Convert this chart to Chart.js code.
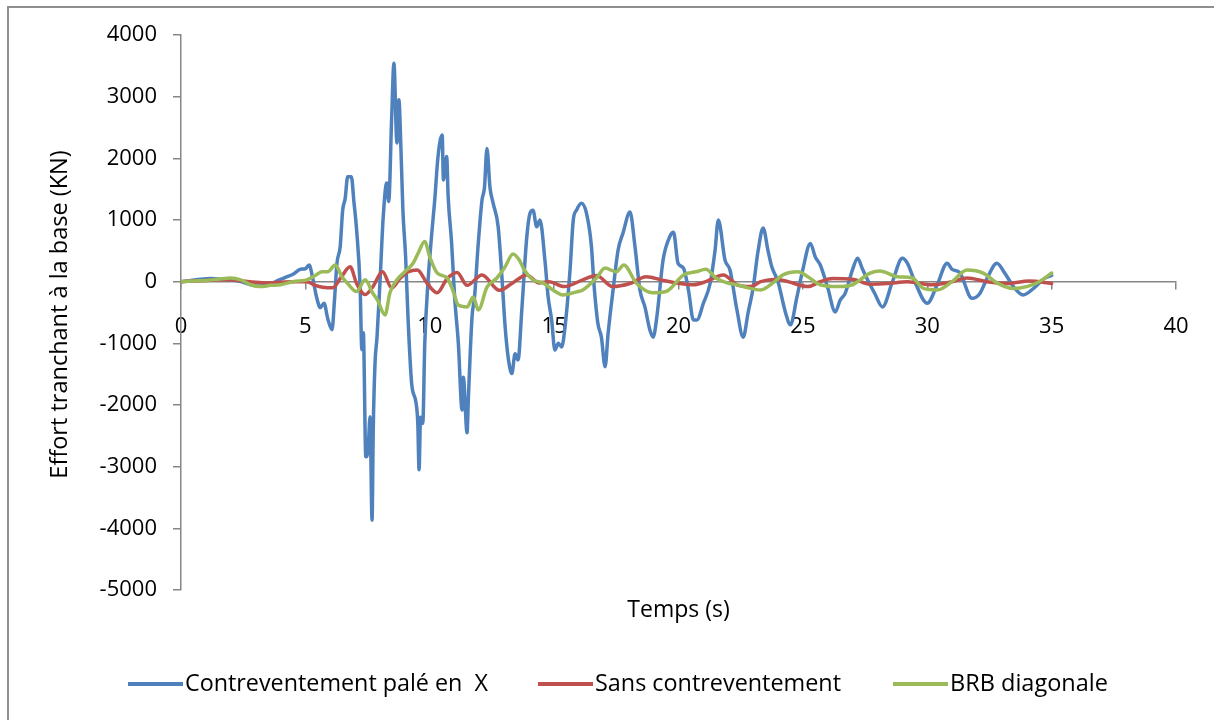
<!DOCTYPE html>
<html>
<head>
<meta charset="utf-8">
<script src="https://cdn.jsdelivr.net/npm/chart.js@4.4.1/dist/chart.umd.min.js"></script>
<style>
  html, body { margin: 0; padding: 0; background: #ffffff; }
  #wrap { width: 1214px; height: 720px; position: relative; }
</style>
</head>
<body>
<div id="wrap"><canvas id="c" width="1214" height="720"></canvas></div>
<script>
// ---------- DATA ----------
const seriesNames = ["Contreventement palé en  X", "Sans contreventement", "BRB diagonale"];
const xTickValues = [0, 5, 10, 15, 20, 25, 30, 35, 40];
const yTickValues = [4000, 3000, 2000, 1000, 0, -1000, -2000, -3000, -4000, -5000];
const xTitle = "Temps (s)";
const yTitle = "Effort tranchant à la base (KN)";

const blueT = [0,0.4,0.8,1.2,1.6,2.0,2.4,2.8,3.2,3.6,3.9,4.2,4.5,4.8,5.0,5.15,5.3,5.45,5.6,5.75,5.9,6.07,6.17,6.27,6.4,6.5,6.6,6.7,6.85,6.95,7.06,7.2,7.27,7.33,7.43,7.52,7.6,7.68,7.73,7.8,7.88,8.0,8.13,8.27,8.35,8.47,8.56,8.68,8.76,8.84,8.92,9.03,9.13,9.27,9.45,9.52,9.57,9.63,9.72,9.8,9.93,10.08,10.2,10.33,10.5,10.55,10.68,10.74,10.88,11.0,11.15,11.3,11.35,11.5,11.55,11.7,11.8,11.95,12.1,12.2,12.3,12.42,12.55,12.75,12.9,13.03,13.15,13.3,13.43,13.55,13.7,13.9,14.03,14.15,14.3,14.43,14.63,14.76,14.9,15.03,15.17,15.3,15.44,15.64,15.77,15.9,16.1,16.3,16.5,16.6,16.76,16.9,17.05,17.17,17.37,17.57,17.77,18.05,18.25,18.45,18.65,18.85,18.98,19.13,19.38,19.65,19.8,19.98,20.2,20.4,20.6,20.74,21.0,21.27,21.47,21.6,21.87,22.07,22.35,22.6,22.8,23.0,23.2,23.4,23.6,23.75,24.0,24.3,24.5,24.76,25.0,25.3,25.5,25.7,26.0,26.3,26.5,26.7,27.0,27.2,27.4,27.6,27.9,28.2,28.6,29.0,29.2,29.5,30.0,30.4,30.8,31.0,31.3,31.8,32.1,32.4,32.8,33.1,33.5,33.85,34.3,34.7,35.0];
const blueV = [0,20,40,50,40,30,0,-50,-70,-40,20,70,120,200,210,270,50,-250,-420,-350,-600,-780,-300,300,570,1160,1350,1700,1700,1300,840,-80,-1100,-830,-2840,-2730,-2190,-3870,-2360,-1320,-900,0,1050,1600,1300,2670,3540,2250,2950,2180,1160,400,-620,-1640,-1970,-2300,-3050,-2200,-2300,-1000,0,780,1320,2020,2380,1650,2030,1380,620,-250,-1000,-2080,-1550,-2450,-1920,-570,-250,620,1320,1530,2160,1530,1270,890,80,-730,-1220,-1490,-1170,-1270,-460,720,1110,1160,890,1000,350,-250,-620,-1110,-1000,-1060,-730,190,1000,1160,1270,1110,570,-30,-680,-900,-1380,-840,-135,510,790,1130,570,-135,-410,-785,-900,-570,350,730,800,300,220,-135,-620,-620,-350,-30,510,1000,350,190,-460,-900,-500,-100,500,870,500,240,0,-500,-700,-250,200,620,400,270,-100,-490,-300,-190,200,380,200,30,-200,-410,0,380,300,0,-350,-50,300,200,150,-270,-200,50,300,150,-100,-215,-100,50,100];

const redT = [0,0.5,1.0,1.5,2.0,2.5,3.0,3.5,4.0,4.5,5.06,5.4,5.7,6.1,6.45,6.8,7.06,7.4,7.7,8.1,8.47,8.8,9.14,9.5,9.9,10.3,10.7,11.1,11.5,12.1,12.8,13.3,13.9,14.4,14.8,15.4,16.15,16.7,17.35,18.05,18.7,19.4,20.05,20.6,21.1,21.8,22.4,22.9,23.3,23.95,24.4,25.2,25.7,26.2,27.0,27.7,28.4,29.2,30.2,31.0,31.6,32.4,33.2,34.1,35.0];
const redV = [0,10,20,30,30,10,-10,-20,-10,0,0,-60,-90,-100,80,240,-30,-210,-90,160,-100,50,160,190,-30,-180,50,150,-60,110,-140,-30,110,-20,0,-80,30,100,-80,-30,80,20,-30,-50,0,110,-60,-80,0,40,0,-80,0,50,40,-40,-30,0,-50,0,60,0,-30,10,-30];

const greenT = [0,0.5,1.0,1.5,2.0,2.4,2.8,3.2,3.6,4.0,4.5,5.06,5.4,5.66,5.9,6.2,6.47,6.7,7.06,7.4,7.7,7.9,8.2,8.4,8.68,9.0,9.33,9.53,9.8,10.0,10.3,10.7,10.95,11.15,11.5,11.75,11.95,12.3,12.7,13.0,13.35,13.6,13.8,14.15,14.55,14.95,15.35,15.9,16.15,16.7,17.05,17.5,17.8,18.3,18.97,19.5,20.2,20.7,21.1,21.5,21.95,22.35,22.8,23.3,23.8,24.2,24.8,25.2,25.7,26.4,27.0,27.7,28.1,28.8,29.4,29.85,30.4,31.0,31.6,32.25,32.8,33.45,34.0,34.5,35.0];
const greenV = [0,10,20,40,60,30,-50,-80,-60,-50,0,30,100,160,160,270,80,-30,-160,30,-180,-300,-540,-180,30,160,300,460,650,400,140,60,-165,-380,-410,-250,-460,-90,60,220,450,350,190,30,-20,-135,-215,-165,-135,60,220,160,270,-20,-180,-160,110,160,200,60,-20,-50,-100,-135,-20,110,160,80,-50,-80,-50,140,175,80,60,-110,-135,0,190,140,-20,-110,-80,0,140];

const colors = ["#4F81BD", "#C0504D", "#9BBB59"];

// ---------- BUILD ----------
function pts(T, V) { return T.map((t, i) => ({ x: t, y: V[i] })); }

const FONT = "'Open Sans', 'DejaVu Sans', sans-serif";
const AXIS_GRAY = "#868686";

const decor = {
  id: 'decor',
  beforeDraw(chart) {
    const ctx = chart.ctx;
    ctx.save();
    ctx.fillStyle = '#ffffff';
    ctx.fillRect(0, 0, chart.width, chart.height);
    ctx.strokeStyle = '#8f8f8f';
    ctx.lineWidth = 2;
    ctx.strokeRect(8, 7, chart.width + 20, chart.height + 20);
    ctx.restore();
  },
  afterDraw(chart) {
    const ctx = chart.ctx;
    const a = chart.chartArea;
    ctx.save();
    ctx.fillStyle = '#000000';
    ctx.font = "23px " + FONT;
    ctx.textAlign = 'center';
    ctx.textBaseline = 'middle';
    // x title
    ctx.fillText(xTitle, (a.left + a.right) / 2, a.bottom + 20);
    // y title
    ctx.save();
    ctx.translate(60, (a.top + a.bottom) / 2 + 2);
    ctx.rotate(-Math.PI / 2);
    ctx.font = "23.5px " + FONT;
    ctx.fillText(yTitle, 0, 0);
    ctx.restore();
    // legend
    const ly = 684;
    const lineStarts = [128, 538, 893];
    const textWidths = [303, 246, 158];
    ctx.textAlign = 'left';
    ctx.font = "24px " + FONT;
    seriesNames.forEach((name, i) => {
      ctx.strokeStyle = colors[i];
      ctx.lineWidth = 4;
      ctx.beginPath();
      ctx.moveTo(lineStarts[i], ly);
      ctx.lineTo(lineStarts[i] + 55, ly);
      ctx.stroke();
      const w = ctx.measureText(name).width;
      ctx.save();
      ctx.translate(lineStarts[i] + 57, ly);
      ctx.scale(textWidths[i] / w, 1);
      ctx.fillText(name, 0, 0);
      ctx.restore();
    });
    ctx.restore();
  }
};

const datasets = seriesNames.map((name, i) => ({
  label: name,
  data: [pts(blueT, blueV), pts(redT, redV), pts(greenT, greenV)][i],
  borderColor: colors[i],
  backgroundColor: colors[i],
  borderWidth: 3.5,
  borderJoinStyle: 'round',
  borderCapStyle: 'round',
  cubicInterpolationMode: 'monotone',
  pointRadius: 0,
  fill: false,
  order: 2 - i
}));

new Chart(document.getElementById('c'), {
  type: 'line',
  data: { datasets },
  plugins: [decor],
  options: {
    responsive: false,
    animation: false,
    layout: { padding: { left: 0, top: 35, right: 38, bottom: 130 } },
    plugins: { legend: { display: false }, tooltip: { enabled: false } },
    scales: {
      x: {
        type: 'linear',
        min: 0, max: 40,
        position: { y: 0 },
        afterBuildTicks(s) { s.ticks = xTickValues.map(v => ({ value: v })); },
        ticks: { color: '#000', font: { family: FONT, size: 22 }, padding: 25, maxRotation: 0, callback: v => String(v) },
        grid: { drawOnChartArea: false, drawTicks: true, tickLength: 7, color: AXIS_GRAY, lineWidth: 1.5 },
        border: { display: true, color: AXIS_GRAY, width: 1.5 }
      },
      y: {
        type: 'linear',
        min: -5000, max: 4000,
        afterFit(s) { s.width = 181; },
        afterBuildTicks(s) { s.ticks = yTickValues.map(v => ({ value: v })); },
        ticks: { color: '#000', font: { family: FONT, size: 22 }, padding: 16, callback: v => String(v) },
        grid: { drawOnChartArea: false, drawTicks: true, tickLength: 8, color: AXIS_GRAY, lineWidth: 1.5 },
        border: { display: true, color: AXIS_GRAY, width: 1.5 }
      }
    }
  }
});
</script>
</body>
</html>
